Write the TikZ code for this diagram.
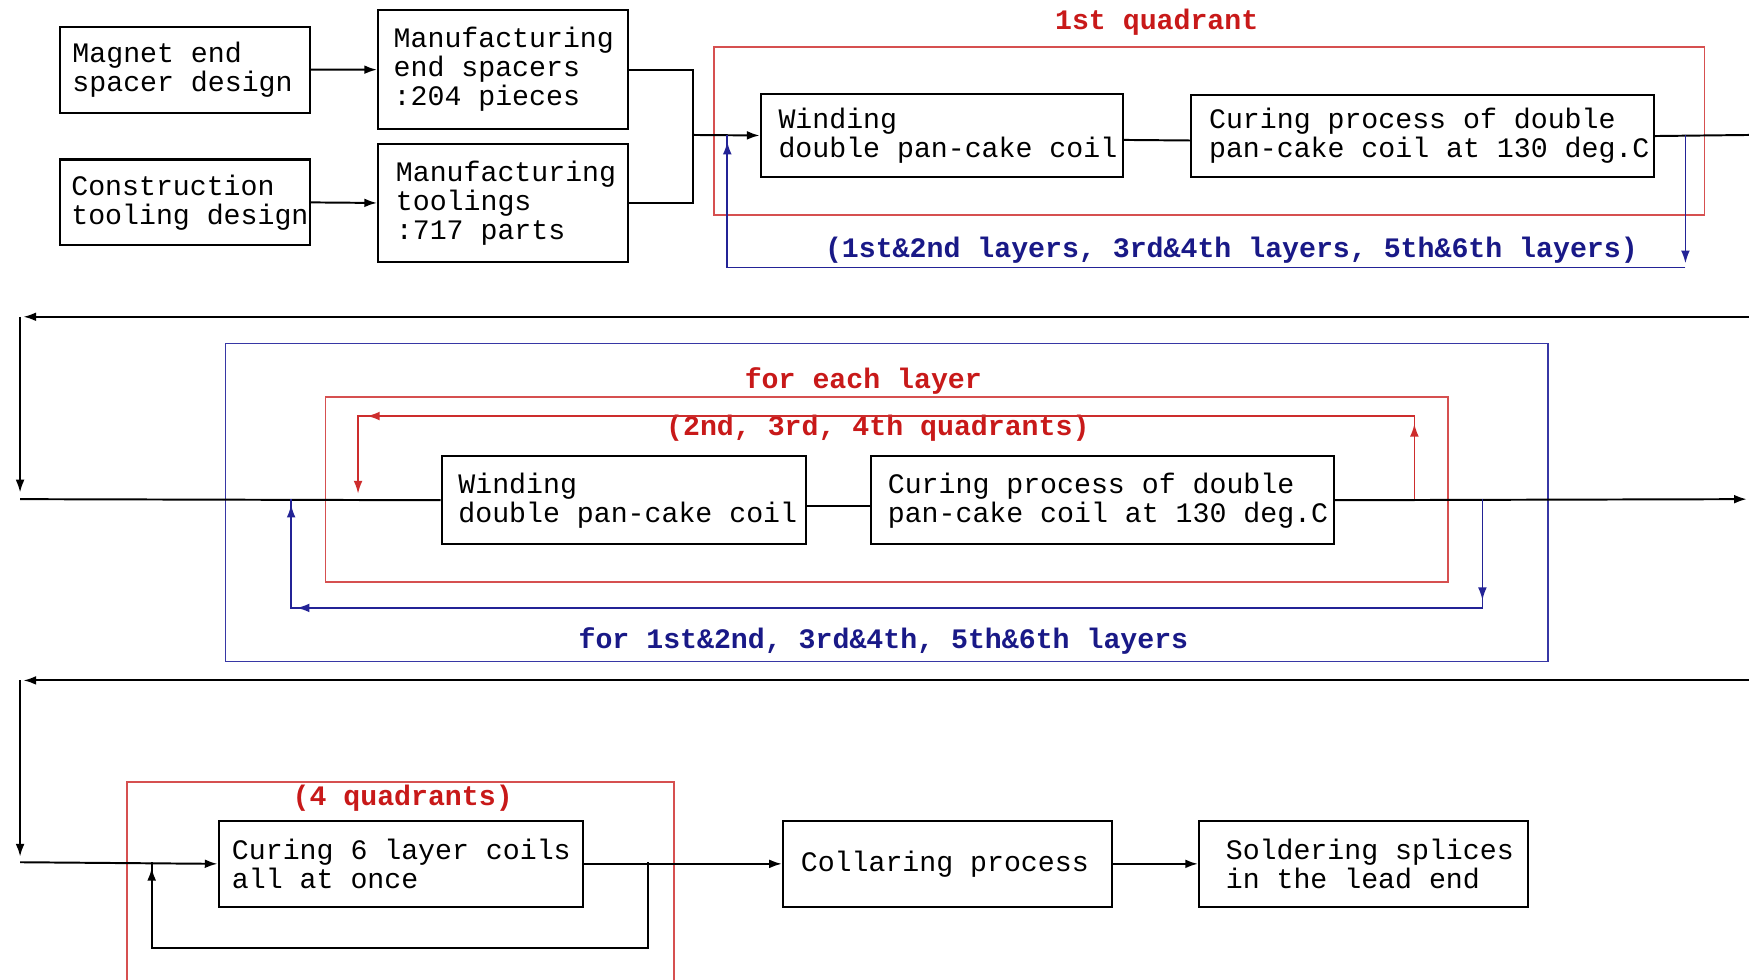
\documentclass[tikz,border=0pt]{standalone}
\usepackage{fontspec}
\usetikzlibrary{arrows.meta}
\newfontfamily\monofont{Liberation Mono}
\definecolor{loopred}{RGB}{205,45,45}
\definecolor{framered}{RGB}{214,80,80}
\definecolor{loopblue}{RGB}{35,35,150}
\definecolor{frameblue}{RGB}{55,55,165}
\definecolor{labelred}{RGB}{200,25,25}
\definecolor{labelblue}{RGB}{25,25,135}
\newcommand{\boxtext}{\monofont\fontsize{14.4pt}{14.8pt}\selectfont}
\newcommand{\tagtext}{\monofont\bfseries\fontsize{14.4pt}{14.8pt}\selectfont}
% unbreakable full-width space for the box lines
\newcommand{\ns}{\nobreak\ }

\tikzset{
  tip/.style={-{Latex[length=6.5pt,width=4.5pt]}},
  % process box: width, height, left padding (cm); anchored at its top-left corner
  pbox/.style n args={3}{draw=black, line width=1.1pt, anchor=north west,
    minimum height=#2cm, text width=#1cm, inner xsep=0pt, inner ysep=0pt,
    align=left, font=\boxtext,
    execute at begin node={\leftskip=#3cm\spaceskip=0pt\xspaceskip=0pt\relax}},
  flow/.style={draw=black, line width=1pt},
  redloop/.style={draw=loopred, line width=0.8pt},
  blueloop/.style={draw=loopblue, line width=0.8pt},
  redframe/.style={draw=framered, line width=0.8pt},
  blueframe/.style={draw=frameblue, line width=0.8pt},
  redtag/.style={font=\tagtext, text=labelred, inner sep=0pt},
  bluetag/.style={font=\tagtext, text=labelblue, inner sep=0pt},
}

\begin{document}
\begin{tikzpicture}[x=0.02cm, y=-0.02cm]
\fill[white] (0,0) rectangle (1568,878);
\useasboundingbox (0,0) rectangle (1568,878);

% ---------- design and manufacturing ----------
\node[pbox={4.48}{1.54}{0.22}] (A) at (53,23) {Magnet\ns end\\spacer\ns design};
\node[pbox={4.48}{2.14}{0.28}] (B) at (338,8) {Manufacturing\\end\ns spacers\\:204\ns pieces};
\node[pbox={4.48}{1.54}{0.20}] (C) at (53,142) {Construction\\tooling\ns design};
\node[pbox={4.48}{2.12}{0.32}] (D) at (338,128) {Manufacturing\\toolings\\:717\ns parts};

% ---------- first quadrant ----------
\draw[redframe] (640,42) rectangle (1528,193);
\node[redtag] (t1) at (1037,20) {1st quadrant};
\node[pbox={6.50}{1.50}{0.32}] (W1) at (681,83) {Winding\\double\ns pan-cake\ns coil};
\node[pbox={8.30}{1.48}{0.32}] (K1) at (1067,84) {Curing\ns process\ns of\ns double\\pan-cake\ns coil\ns at\ns 130\ns deg.C};
\node[bluetag] (t2) at (1104,224) {(1st\&2nd layers, 3rd\&4th layers, 5th\&6th layers)};

\coordinate (jn) at (621,121);
\coordinate (out1) at (1568,121);
\coordinate (q1a) at (1511,121);
\coordinate (q1b) at (1511,240);
\coordinate (q1c) at (652,240);
\coordinate (q1d) at (652,121);

\draw[flow, tip] (A.east) -- (B.west);
\draw[flow, tip] (C.east) -- (D.west);
\draw[flow] (B.east) -| (jn) |- (D.east);
\draw[flow, tip] (jn) -- (W1.west);
\draw[flow] ([yshift=-0.08cm]W1.east) -- ([yshift=-0.08cm]K1.west);
\draw[flow] (K1.east) -- (out1);

\draw[blueloop, tip] (q1a) -- ([yshift=0.08cm]q1b);
\draw[blueloop] (q1b) -- (q1c) -- (q1d);
\draw[blueloop, tip] ([yshift=-0.45cm]q1d) -- ([yshift=-0.12cm]q1d);

% ---------- return to the second stage ----------
\coordinate (back1) at (1568,284);
\coordinate (c1) at (18,284);
\coordinate (c2) at (18,447.5);
\draw[flow, tip] (back1) -- ([xshift=0.06cm]c1);
\draw[flow, tip] (c1) -- ([yshift=0.12cm]c2);

% ---------- remaining quadrants ----------
\draw[blueframe] (202,308) rectangle (1388,593);
\draw[redframe] (292,356) rectangle (1298,522);
\node[redtag] (t3) at (774,342) {for each layer};
\node[redtag] (t4) at (787,384) {(2nd, 3rd, 4th quadrants)};
\node[bluetag] (t5) at (792,575) {for 1st\&2nd, 3rd\&4th, 5th\&6th layers};
\node[pbox={6.54}{1.58}{0.30}] (W2) at (395,408) {Winding\\double\ns pan-cake\ns coil};
\node[pbox={8.30}{1.58}{0.30}] (K2) at (780,408) {Curing\ns process\ns of\ns double\\pan-cake\ns coil\ns at\ns 130\ns deg.C};

\coordinate (out2) at (1566,447.5);
\coordinate (r1) at (1268,447.5);
\coordinate (r2) at (1268,373);
\coordinate (r3) at (321,373);
\coordinate (r4) at (321,447.5);
\coordinate (b1) at (1329,447.5);
\coordinate (b2) at (1329,545);
\coordinate (b3) at (261,545);
\coordinate (b4) at (261,447.5);

\draw[flow] (c2) -- (W2.west);
\draw[flow] ([yshift=-0.1cm]W2.east) -- ([yshift=-0.1cm]K2.west);
\draw[flow, tip] (K2.east) -- (out2);

\draw[redloop, tip] (r1) -- (r2) -- (r3) -- ([yshift=0.1cm]r4);
\draw[redloop, tip] ([yshift=-0.45cm]r2) -- ([yshift=-0.14cm]r2);
\draw[redloop, tip] ([xshift=0.5cm]r3) -- ([xshift=0.16cm]r3);

\draw[blueloop] (b1) -- (b2) -- (b3) -- (b4);
\draw[blueloop, tip] ([yshift=0.45cm]b2) -- ([yshift=0.14cm]b2);
\draw[blueloop, tip] ([xshift=0.5cm]b3) -- ([xshift=0.1cm]b3);
\draw[blueloop, tip] ([yshift=-0.45cm]b4) -- ([yshift=-0.1cm]b4);

% ---------- return to the final stage ----------
\coordinate (back2) at (1568,610);
\coordinate (c3) at (18,610);
\coordinate (c4) at (18,773);
\draw[flow, tip] (back2) -- ([xshift=0.06cm]c3);
\draw[flow, tip] (c3) -- ([yshift=0.1cm]c4);

% ---------- all four quadrants ----------
\draw[redframe] (114,880) |- (604,701) -- (604,880);
\node[redtag] (t6) at (361,716) {(4 quadrants)};
\node[pbox={6.54}{1.54}{0.24}] (K3) at (195,735) {Curing\ns 6\ns layer\ns coils\\all\ns at\ns once};
\node[pbox={5.90}{1.54}{0.32}] (L) at (701,735) {Collaring\ns process};
\node[pbox={5.90}{1.54}{0.48}] (S) at (1074,735) {Soldering\ns splices\\in\ns the\ns lead\ns end};

\coordinate (d1) at (581,773);
\coordinate (d2) at (581,850);
\coordinate (d3) at (136,850);
\coordinate (d4) at (136,773);

\draw[flow, tip] (c4) -- (K3.west);
\draw[flow] (d1) -- (d2) -- (d3) -- (d4);
\draw[flow, tip] ([yshift=-0.45cm]d4) -- ([yshift=-0.1cm]d4);
\draw[flow, tip] (K3.east) -- (L.west);
\draw[flow, tip] (L.east) -- (S.west);
\end{tikzpicture}
\end{document}
